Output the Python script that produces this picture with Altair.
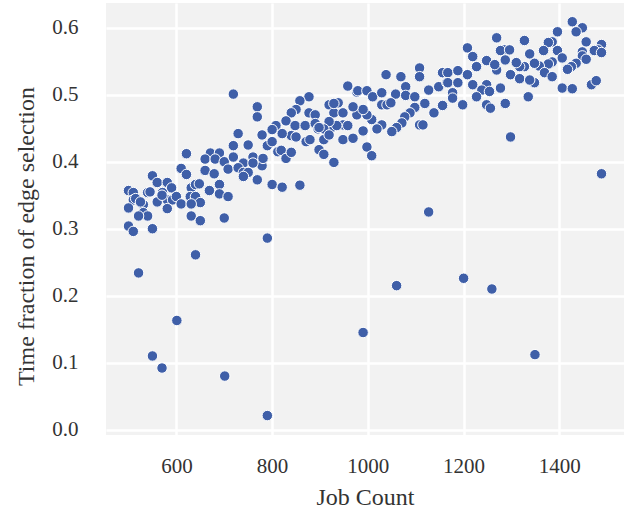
import altair as alt
import pandas as pd

job_count = [
    # left cluster
    500, 510, 540, 510, 500, 531, 531, 540, 521, 500, 510, 550, 550, 560, 581, 590, 571, 560, 581, 592,
    600, 610, 631, 640, 648, 629, 640, 650, 631, 631, 650, 700, 581, 515, 525, 545, 570,
    719, 769, 769, 808, 800, 729, 779, 719, 750, 790, 812, 621, 671, 690, 660, 681, 700, 719, 760,
    740, 779, 760, 610, 621, 660, 679, 708, 729, 740, 750, 769, 800, 690, 669, 690, 708, 781, 740,
    # middle
    877, 858, 850, 840, 829, 877, 890, 848, 869, 890, 896, 840, 850, 871, 879, 821, 819, 829, 840,
    821, 858, 898, 908, 929, 908, 927, 919, 929, 948, 958, 977, 938, 948, 948, 969, 977, 800,
    979, 998, 1010, 1029, 1038, 1069, 1079, 1058, 1079, 1098, 1108, 1108, 1127, 1148, 1156, 1167,
    1165, 1156, 1138, 1119, 1098, 1088, 1077, 1071, 1060, 1050, 1108, 1115, 1029, 1040, 1048, 1029,
    1019, 1008, 998, 990, 969, 958, 935, 929, 919, 908, 898, 919, 990, 998, 1008,
    # right
    1427, 1448, 1435, 1396, 1456, 1488, 1481, 1473, 1488, 1385, 1377, 1327, 1367, 1396, 1448, 1448,
    1406, 1456, 1435, 1425, 1417, 1385, 1377, 1358, 1348, 1338, 1327, 1317, 1310, 1298, 1317, 1348,
    1369, 1385, 1406, 1427, 1467, 1477, 1335, 1287, 1298, 1488, 1269, 1285, 1277, 1296, 1208, 1219,
    1248, 1227, 1269, 1287, 1265, 1188, 1167, 1188, 1208, 1219, 1248, 1238, 1254, 1277, 1177, 1177,
    1198, 1227, 1248, 1256, 1338,
    # outliers
    790, 640, 521, 1060, 1200, 1259, 601, 990, 1349, 550, 570, 701, 790, 1127,
]

edge_fraction = [
    0.357, 0.354, 0.354, 0.343, 0.331, 0.336, 0.324, 0.319, 0.319, 0.304, 0.296, 0.300, 0.379, 0.369, 0.369, 0.361, 0.354, 0.340, 0.343, 0.343,
    0.348, 0.337, 0.361, 0.366, 0.367, 0.348, 0.348, 0.339, 0.337, 0.319, 0.312, 0.316, 0.330, 0.345, 0.340, 0.355, 0.350,
    0.501, 0.482, 0.467, 0.454, 0.448, 0.442, 0.440, 0.424, 0.425, 0.424, 0.415, 0.412, 0.413, 0.413, 0.404, 0.404, 0.400, 0.407, 0.407,
    0.398, 0.394, 0.398, 0.390, 0.381, 0.387, 0.382, 0.389, 0.391, 0.384, 0.384, 0.373, 0.366, 0.366, 0.357, 0.352, 0.348, 0.405, 0.378,
    0.497, 0.491, 0.478, 0.473, 0.461, 0.473, 0.470, 0.454, 0.454, 0.457, 0.449, 0.439, 0.437, 0.430, 0.433, 0.442, 0.417, 0.405, 0.414,
    0.362, 0.365, 0.418, 0.411, 0.399, 0.433, 0.452, 0.485, 0.473, 0.473, 0.513, 0.504, 0.488, 0.455, 0.433, 0.435, 0.470, 0.430,
    0.506, 0.506, 0.497, 0.503, 0.530, 0.527, 0.512, 0.501, 0.499, 0.497, 0.540, 0.527, 0.507, 0.512, 0.533, 0.533,
    0.518, 0.484, 0.473, 0.487, 0.481, 0.473, 0.467, 0.458, 0.451, 0.445, 0.455, 0.455, 0.485, 0.485, 0.488, 0.455,
    0.449, 0.463, 0.470, 0.478, 0.482, 0.454, 0.454, 0.487, 0.460, 0.449, 0.451, 0.440, 0.446, 0.422, 0.409,
    0.609, 0.600, 0.594, 0.594, 0.579, 0.575, 0.567, 0.566, 0.563, 0.579, 0.578, 0.581, 0.566, 0.566, 0.564, 0.558,
    0.555, 0.553, 0.547, 0.542, 0.538, 0.549, 0.546, 0.543, 0.547, 0.561, 0.542, 0.542, 0.548, 0.530, 0.524, 0.518,
    0.533, 0.527, 0.510, 0.509, 0.515, 0.521, 0.497, 0.487, 0.437, 0.382, 0.585, 0.567, 0.566, 0.567, 0.570, 0.557,
    0.551, 0.542, 0.537, 0.552, 0.545, 0.536, 0.518, 0.518, 0.530, 0.515, 0.515, 0.507, 0.505, 0.510, 0.503, 0.495,
    0.485, 0.497, 0.485, 0.480, 0.522,
    0.286, 0.261, 0.234, 0.215, 0.226, 0.210, 0.163, 0.145, 0.112, 0.110, 0.092, 0.080, 0.021, 0.325,
]

x_ticks = [600, 800, 1000, 1200, 1400]
y_ticks = [0.0, 0.1, 0.2, 0.3, 0.4, 0.5, 0.6]

n = min(len(job_count), len(edge_fraction))
df = pd.DataFrame({"job": job_count[:n], "frac": edge_fraction[:n]})

FONT = "Liberation Serif"
TXT = "#333333"

chart = alt.Chart(df).mark_circle(
    size=110, color="#3F5FA8", opacity=1, stroke="white", strokeWidth=1
).encode(
    x=alt.X("job:Q", title="Job Count",
            scale=alt.Scale(domain=[453, 1535], nice=False, zero=False),
            axis=alt.Axis(values=x_ticks, format="d", grid=True, domain=False, ticks=False,
                          labelPadding=20, titlePadding=9)),
    y=alt.Y("frac:Q", title="Time fraction of edge selection",
            scale=alt.Scale(domain=[-0.008, 0.637], nice=False, zero=False),
            axis=alt.Axis(values=y_ticks, format=".1f", grid=True, domain=False, ticks=False,
                          labelPadding=28, titlePadding=13, titleY=233)),
).properties(
    width=518, height=432,
    autosize=alt.AutoSizeParams(type="none"),
    padding={"left": 106, "top": 3, "right": 12, "bottom": 83},
    background="white",
).configure_view(
    fill="#F2F2F2", stroke=None
).configure_axis(
    gridColor="white", gridWidth=2.5, gridOpacity=1,
    labelFont=FONT, labelFontSize=21, labelColor=TXT,
    titleFont=FONT, titleFontSize=24, titleColor=TXT, titleFontWeight="normal",
)

chart.save("out.html", embed_options={"renderer": "svg", "actions": False})
